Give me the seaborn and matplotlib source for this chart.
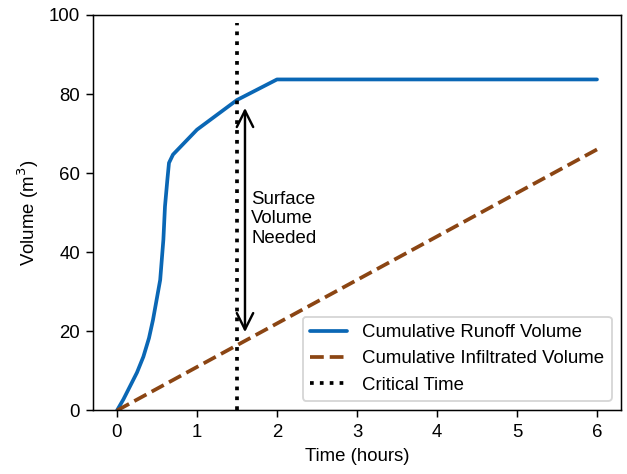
import matplotlib
matplotlib.use("Agg")
import matplotlib.pyplot as plt
import seaborn as sns
import pandas as pd

sns.set_style("ticks")
plt.rcParams['font.family'] = ['Liberation Sans', 'DejaVu Sans']
plt.rcParams['text.color'] = 'black'
plt.rcParams['axes.labelcolor'] = 'black'

runoff_t = [0, 0.08, 0.16, 0.25, 0.33, 0.40, 0.45, 0.54, 0.58, 0.60, 0.63, 0.65, 0.70, 1.0, 1.5, 2.0, 6.0]
runoff_v = [0, 2.8, 6.0, 9.6, 13.6, 18.3, 22.9, 33, 43.2, 51.6, 58.4, 62.6, 64.7, 71, 78.5, 83.7, 83.7]
infil_t = [0, 6]
infil_v = [0, 66]
critical_time = 1.5
arrow_bottom = 19.8
arrow_top = 76.5

DPI = 134
fig, ax = plt.subplots(figsize=(627 / DPI, 474 / DPI), dpi=DPI)
fig.subplots_adjust(left=0.1483, right=0.9904, top=0.9684, bottom=0.134)

df_r = pd.DataFrame({"t": runoff_t, "v": runoff_v})
df_i = pd.DataFrame({"t": infil_t, "v": infil_v})
sns.lineplot(data=df_r, x="t", y="v", ax=ax, color="#0a67b5", lw=2,
             label="Cumulative Runoff Volume")
sns.lineplot(data=df_i, x="t", y="v", ax=ax, color="#8b4513", lw=2,
             linestyle="--", label="Cumulative Infiltrated Volume")
ax.vlines(critical_time, 0, 98, colors="black", linestyles=":", lw=2,
          label="Critical Time")

ax.annotate("", xy=(1.6, arrow_top), xytext=(1.6, arrow_bottom),
            arrowprops=dict(arrowstyle="<->", color="black", lw=1.3,
                            mutation_scale=22, shrinkA=0, shrinkB=0))
ax.text(1.68, 48.5, "Surface\nVolume\nNeeded", fontsize=10, va="center", ha="left")

ax.set_ylim(0, 100)
ax.set_xlim(-0.3, 6.3)
ax.set_xticks([0, 1, 2, 3, 4, 5, 6])
ax.set_yticks([0, 20, 40, 60, 80, 100])
ax.set_xlabel("Time (hours)", fontsize=10)
ax.set_ylabel("Volume (m$^3$)", fontsize=10)
ax.tick_params(labelsize=10, colors="black")
for s in ax.spines.values():
    s.set_color("black")
ax.legend(loc="lower right", fontsize=10, frameon=True)

fig.savefig("out.png", dpi=DPI)
